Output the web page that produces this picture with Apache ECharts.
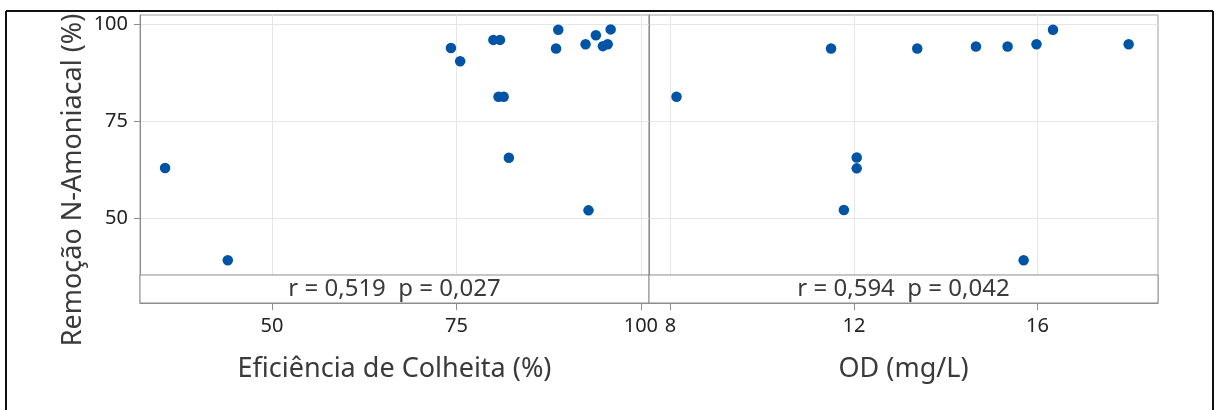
<!DOCTYPE html>
<html>
<head>
<meta charset="utf-8">
<script src="https://cdn.jsdelivr.net/npm/echarts@6/dist/echarts.min.js"></script>
<style>
html, body { margin: 0; padding: 0; background: #fff; }
#chart { width: 1214px; height: 410px; }
</style>
</head>
<body>
<div id="chart"></div>
<script>
// painel esquerdo: eficiencia de colheita x remocao
const effX = [35.5, 44.0, 74.25, 75.5, 80.0, 80.9, 80.7, 81.4, 82.1, 88.5, 88.8, 92.9, 92.5, 93.9, 94.85, 95.5, 95.9];
const effY = [63.0, 39.3, 93.8, 90.4, 95.9, 95.9, 81.3, 81.3, 65.6, 93.7, 98.5, 52.1, 94.8, 97.1, 94.3, 94.8, 98.6];
// painel direito: OD x remocao
const odX = [8.13, 11.50, 13.38, 14.66, 15.35, 15.98, 16.34, 17.99, 12.06, 12.06, 11.78, 15.70];
const odY = [81.3, 93.7, 93.7, 94.2, 94.2, 94.8, 98.5, 94.8, 65.7, 62.9, 52.2, 39.3];

const yTicks = [50, 75, 100];
const effTicks = [50, 75, 100];
const odTicks = [8, 12, 16];
const stats = ['r = 0,519  p = 0,027', 'r = 0,594  p = 0,042'];
const xNames = ['Eficiência de Colheita (%)', 'OD (mg/L)'];
const yName = 'Remoção N-Amoniacal (%)';

const font = '"Noto Sans", "Open Sans", sans-serif';
const axisGray = '#8c8c8c';
const gridGray = '#e6e6e6';
const dotColor = '#0054a6';
const textColor = '#3a3a3a';
const yMin = 28.3, yMax = 102.3, stripTop = 35.5;

function pairs(xs, ys) {
    return xs.map((x, i) => [x, ys[i]]);
}

function xAxisFor(idx, min, max, ticks) {
    return {
        gridIndex: idx,
        type: 'value',
        min: min,
        max: max,
        name: xNames[idx],
        nameLocation: 'middle',
        nameGap: 53,
        nameTextStyle: {fontFamily: font, fontSize: 27, color: textColor},
        axisLine: {show: true, onZero: false, lineStyle: {color: axisGray}},
        axisTick: {show: true, length: 7, customValues: ticks, lineStyle: {color: axisGray}},
        axisLabel: {customValues: ticks, fontFamily: font, fontSize: 20, color: '#222', margin: 13},
        splitLine: {show: true, lineStyle: {color: gridGray}}
    };
}

function yAxisFor(idx, labels) {
    return {
        gridIndex: idx,
        type: 'value',
        min: yMin,
        max: yMax,
        axisLine: {show: true, lineStyle: {color: axisGray}},
        axisTick: {show: labels, length: 6, customValues: yTicks, lineStyle: {color: axisGray}},
        axisLabel: {show: labels, customValues: yTicks, fontFamily: font, fontSize: 20, color: '#222', margin: 12},
        splitLine: {show: true, lineStyle: {color: gridGray}}
    };
}

function scatterFor(idx, data) {
    return {
        type: 'scatter',
        xAxisIndex: idx,
        yAxisIndex: idx,
        data: data,
        symbolSize: 10.5,
        itemStyle: {color: dotColor, opacity: 1},
        markArea: {
            silent: true,
            itemStyle: {color: '#fff', borderColor: axisGray, borderWidth: 1},
            label: {show: true, position: 'inside', fontFamily: font, fontSize: 24, color: textColor},
            data: [[{name: stats[idx], yAxis: yMin}, {yAxis: stripTop}]]
        }
    };
}

const chart = echarts.init(document.getElementById('chart'));
chart.setOption({
    animation: false,
    backgroundColor: '#fff',
    grid: [
        {left: 140, top: 15, width: 509, height: 288, show: true, borderColor: '#a0a0a0', borderWidth: 1},
        {left: 649, top: 15, width: 509, height: 288, show: true, borderColor: '#a0a0a0', borderWidth: 1}
    ],
    xAxis: [
        xAxisFor(0, 32.1, 101.1, effTicks),
        xAxisFor(1, 7.53, 18.63, odTicks)
    ],
    yAxis: [
        yAxisFor(0, true),
        yAxisFor(1, false)
    ],
    series: [
        scatterFor(0, pairs(effX, effY)),
        scatterFor(1, pairs(odX, odY))
    ],
    graphic: [
        {type: 'line', shape: {x1: 6, y1: 11, x2: 1213, y2: 11}, style: {stroke: '#111', lineWidth: 2}},
        {type: 'line', shape: {x1: 6, y1: 11, x2: 6, y2: 410}, style: {stroke: '#111', lineWidth: 2}},
        {type: 'line', shape: {x1: 1213, y1: 11, x2: 1213, y2: 410}, style: {stroke: '#111', lineWidth: 2}},
        {
            type: 'text',
            x: 73,
            y: 180,
            rotation: Math.PI / 2,
            style: {
                text: yName,
                font: '27px ' + font,
                fill: textColor,
                align: 'center',
                verticalAlign: 'middle'
            }
        }
    ]
});
</script>
</body>
</html>
